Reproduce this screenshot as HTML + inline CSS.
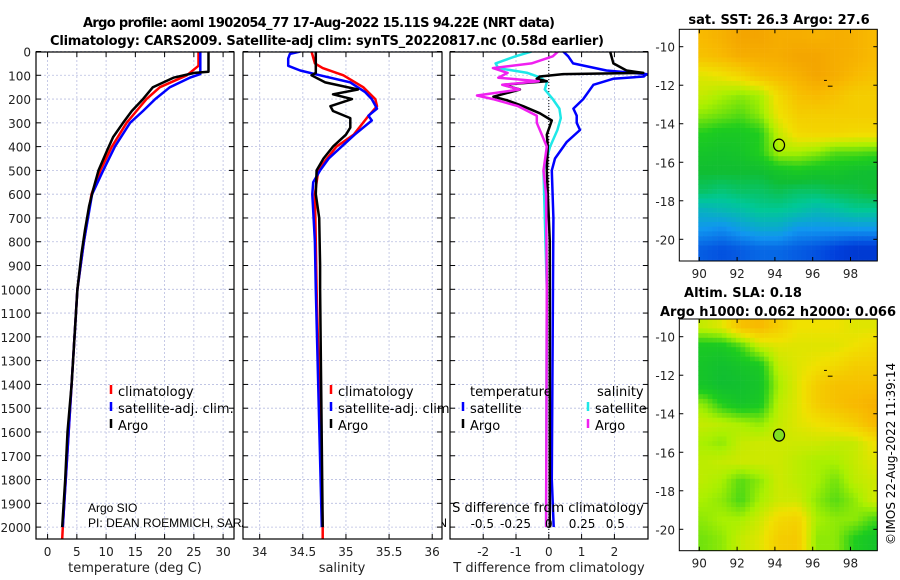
<!DOCTYPE html>
<html><head><meta charset="utf-8"><style>
html,body{margin:0;padding:0;background:#fff;}
svg{display:block;font-family:"DejaVu Sans","Liberation Sans",sans-serif;}
</style></head><body>
<svg id="fig" width="900" height="580" viewBox="0 0 900 580" xmlns="http://www.w3.org/2000/svg">
<text x="319" y="27" font-size="13" font-weight="bold" text-anchor="middle" textLength="472">Argo profile: aoml 1902054_77 17-Aug-2022 15.11S 94.22E (NRT data)</text>
<text x="327" y="45" font-size="13" font-weight="bold" text-anchor="middle" textLength="554">Climatology: CARS2009. Satellite-adj clim: synTS_20220817.nc (0.58d earlier)</text>
<g id="plots"></g>
<text transform="translate(895,545) rotate(-90)" font-size="12">©IMOS 22-Aug-2022 11:39:14</text>
</svg>
<script>
// ---- data ----
const depthTicks=[0,100,200,300,400,500,600,700,800,900,1000,1100,1200,1300,1400,1500,1600,1700,1800,1900,2000];
const tempTicks=[0,5,10,15,20,25,30];
const salTicks=[34,34.5,35,35.5,36];
const tdiffTicks=[-2,-1,0,1,2];
const sdiffTicks=[-0.5,-0.25,0,0.25,0.5];
const argoTDepth=[0,85,90,110,150,200,250,300,360,420,500,580,650,750,850,1000,1200,1400,1600,1800,2000];
const argoTemp=[27.5,27.5,25.1,21.5,18,16.3,14.4,12.9,11.2,10.1,8.7,7.8,7.1,6.4,5.8,5.1,4.6,4.1,3.4,3.0,2.5];
const climTDepth=[0,60,100,150,200,250,300,400,500,600,800,1000,1400,2000,2050];
const climTemp=[25.8,25.8,23.8,19.2,16.9,15.2,13.5,11,9,7.5,6.2,5.1,4.1,2.6,2.5];
const satTDepth=[0,95,110,150,200,250,300,400,500,600,800,1000,1400,2000];
const satTemp=[26.1,26.1,24.3,20.9,18.4,16.3,14.1,11.5,9.5,7.6,6.2,5.1,4.1,2.6];
const argoSDepth=[0,90,100,130,160,180,200,230,250,280,320,350,400,450,500,600,700,900,1000,2000];
const argoSal=[34.65,34.65,34.6,34.76,35.14,34.85,35.07,34.82,34.85,35.05,35.05,35.0,34.85,34.74,34.66,34.65,34.69,34.7,34.7,34.73];
const climSDepth=[0,50,70,100,150,200,230,280,350,400,450,500,600,800,1000,2000,2050];
const climSal=[34.6,34.64,34.73,34.97,35.2,35.34,35.36,35.24,35.09,34.89,34.78,34.68,34.64,34.65,34.66,34.73,34.73];
const satSDepth=[0,10,30,60,80,100,130,170,200,240,270,290,350,400,450,500,550,600,800,1000,2000];
const satSal=[34.47,34.35,34.33,34.33,34.47,34.7,35.05,35.22,35.3,35.36,35.26,35.3,35.1,34.95,34.8,34.7,34.62,34.61,34.64,34.65,34.72];
const argoTdDepth=[0,50,80,90,95,105,115,125,140,160,175,190,205,230,260,290,350,400,500,600,800,2000];
const argoTdiff=[1.87,1.97,2.37,2.88,0.44,-0.27,-0.37,-0.06,-1.39,-0.88,-1.28,-1.69,-1.28,-0.78,-0.27,0.09,-0.06,-0.03,-0.06,-0.03,0.03,0.03];
const satTdDepth=[0,20,50,80,95,105,115,140,200,240,270,300,330,380,450,500,700,1800,2000];
const satTdiff=[0.44,0.59,0.74,1.76,2.98,2.9,1.96,1.36,1.05,0.75,0.85,0.85,0.95,0.55,0.19,0.09,0.14,0.09,0.15];
const satSdDepth=[0,20,50,70,90,110,130,160,200,240,280,330,400,500,700,1000,2000];
const satSdiff=[-0.13,-0.25,-0.4,-0.38,-0.16,-0.06,-0.015,-0.03,0.03,0.08,0.09,0.065,0.01,-0.04,-0.03,-0.015,-0.02];
const argoSdDepth=[0,20,50,70,90,110,125,140,160,185,200,230,270,300,400,500,600,1000,2000];
const argoSdiff=[0.07,0.03,-0.13,-0.42,-0.31,-0.38,-0.075,-0.35,-0.22,-0.54,-0.42,-0.23,-0.09,-0.09,-0.015,-0.04,-0.02,-0.015,-0.02];
const latTicks=[-10,-12,-14,-16,-18,-20];
const lonTicks=[90,92,94,96,98];
const sstGrid=[
[.9,.92,.95,.95,.93,.93,.92,.93,.92,.9],
[.88,.9,.93,.93,.93,.95,.95,.93,.92,.9],
[.78,.8,.83,.88,.9,.92,.95,.93,.9,.88],
[.75,.72,.7,.72,.82,.88,.9,.88,.85,.85],
[.7,.68,.66,.7,.8,.85,.85,.85,.85,.85],
[.62,.6,.6,.62,.75,.82,.83,.83,.82,.82],
[.58,.57,.58,.62,.72,.72,.7,.66,.66,.65],
[.55,.55,.55,.55,.58,.6,.58,.58,.56,.55],
[.5,.48,.5,.5,.52,.5,.5,.52,.53,.55],
[.38,.4,.42,.45,.45,.43,.4,.42,.45,.45],
[.3,.28,.32,.35,.35,.3,.3,.3,.3,.3],
[.2,.18,.2,.22,.22,.2,.18,.15,.12,.12]];
const slaGrid=[
[.75,.78,.88,.9,.85,.8,.8,.8,.78,.78],
[.6,.6,.65,.75,.78,.78,.78,.78,.8,.82],
[.58,.56,.58,.6,.75,.78,.8,.82,.85,.85],
[.58,.55,.56,.58,.72,.78,.85,.88,.88,.88],
[.7,.62,.58,.6,.74,.78,.85,.88,.9,.92],
[.75,.74,.72,.7,.75,.78,.8,.82,.85,.9],
[.72,.7,.75,.76,.76,.76,.76,.75,.75,.8],
[.74,.75,.76,.76,.76,.74,.72,.72,.75,.78],
[.74,.72,.66,.7,.76,.74,.72,.68,.74,.76],
[.72,.7,.65,.72,.76,.76,.7,.66,.7,.76],
[.7,.72,.72,.76,.82,.84,.72,.7,.7,.65],
[.68,.7,.75,.78,.85,.86,.7,.7,.62,.58]];
const gridLat0=-9.5, gridLon0=90.2;
const floatLon=94.22, floatLat=-15.11;

// ---- helpers ----
const NS="http://www.w3.org/2000/svg";
const root=document.getElementById('plots');
function mk(tag,attrs,parent){const e=document.createElementNS(NS,tag);for(const k in attrs)e.setAttribute(k,attrs[k]);(parent||root).appendChild(e);return e;}
const depthY=d=>51.5+d*0.2378;
const P1={x0:36,x1:234,fx:v=>47.6+v*5.85};
const P2={x0:243,x1:442,fx:v=>259.7+(v-34)*86.25};
const P3={x0:450,x1:648,fx:v=>548.8+v*32.8,fs:v=>548.8+v*133};
const yTop=52,yBot=539;

function panel(P,name,ticks,fmt){
  const g=mk('g',{});
  
  
  mk('rect',{x:P.x0,y:yTop,width:P.x1-P.x0,height:yBot-yTop,fill:'#fff'},g);
  depthTicks.forEach(d=>{const y=depthY(d);const l=mk('line',{x1:P.x0,x2:P.x1,y1:y,y2:y,stroke:'#b8bde0','stroke-width':0.8,'stroke-dasharray':'2,2'},g);
    
    mk('line',{x1:P.x0,x2:P.x0+5,y1:y,y2:y,stroke:'#000'},g);mk('line',{x1:P.x1-5,x2:P.x1,y1:y,y2:y,stroke:'#000'},g);});
  ticks.forEach(v=>{const x=P.fx(v);const l=mk('line',{x1:x,x2:x,y1:yTop,y2:yBot,stroke:'#b8bde0','stroke-width':0.8,'stroke-dasharray':'2,2'},g);
    
    mk('line',{x1:x,x2:x,y1:yBot-5,y2:yBot,stroke:'#000'},g);mk('line',{x1:x,x2:x,y1:yTop,y2:yTop+5,stroke:'#000'},g);
    const t=mk('text',{x:x,y:yBot+17,'font-size':12,'text-anchor':'middle',fill:'#222'},g);t.textContent=fmt(v);
    });
  return g;
}
function series(g,P,fx,depths,vals,color,name,w){
  const pts=depths.map((d,i)=>fx(vals[i]).toFixed(1)+','+depthY(d).toFixed(1)).join(' ');
  const c=mk('clipPath',{id:'clip'+name},g);mk('rect',{x:P.x0,y:yTop,width:P.x1-P.x0,height:yBot-yTop},c);
  const l=mk('polyline',{points:pts,fill:'none',stroke:color,'stroke-width':w||2.5,'stroke-linejoin':'round','clip-path':'url(#clip'+name+')'},g);
  
  
}
function frame(g,P){mk('rect',{x:P.x0,y:yTop,width:P.x1-P.x0,height:yBot-yTop,fill:'none',stroke:'#000','stroke-width':1.2},g);}
function legendRow(g,x,y,color,label){
  mk('line',{x1:x,x2:x,y1:y-11,y2:y-2,stroke:color,'stroke-width':2.5},g);
  const t=mk('text',{x:x+7,y:y,'font-size':13,fill:'#000'},g);t.textContent=label;
  
}

// Panel 1
let g1=panel(P1,'temperature-panel',tempTicks,v=>String(v));
depthTicks.forEach(d=>{const t=mk('text',{x:31,y:depthY(d)+5,'font-size':12,'text-anchor':'end',fill:'#222'});t.textContent=d;
  });
series(g1,P1,P1.fx,climTDepth,climTemp,'#f00','temp-climatology-line');
series(g1,P1,P1.fx,satTDepth,satTemp,'#00f','temp-satellite-line');
series(g1,P1,P1.fx,argoTDepth,argoTemp,'#000','temp-argo-line');
frame(g1,P1);
legendRow(g1,111,396,'#f00','climatology');legendRow(g1,111,413,'#00f','satellite-adj. clim.');legendRow(g1,111,430,'#000','Argo');
let xl=mk('text',{x:135,y:572,'font-size':13,'text-anchor':'middle',fill:'#222'});xl.textContent='temperature (deg C)';

{let t=mk('text',{x:88,y:512,'font-size':12,'font-family':'Liberation Sans, sans-serif'});t.textContent='Argo SIO';
 
 t=mk('text',{x:88,y:527,'font-size':12,'font-family':'Liberation Sans, sans-serif',textLength:359,lengthAdjust:'spacingAndGlyphs'});t.textContent='PI: DEAN ROEMMICH, SARAH PURKEY, NATHALIE ZILBERMAN';
 }

// Panel 2
let g2=panel(P2,'salinity-panel',salTicks,v=>String(v));
series(g2,P2,P2.fx,climSDepth,climSal,'#f00','sal-climatology-line');
series(g2,P2,P2.fx,satSDepth,satSal,'#00f','sal-satellite-line');
series(g2,P2,P2.fx,argoSDepth,argoSal,'#000','sal-argo-line');
frame(g2,P2);
legendRow(g2,331,396,'#f00','climatology');legendRow(g2,331,413,'#00f','satellite-adj. clim.');legendRow(g2,331,430,'#000','Argo');
xl=mk('text',{x:342,y:572,'font-size':13,'text-anchor':'middle',fill:'#222'});xl.textContent='salinity';


// Panel 3
let g3=panel(P3,'difference-panel',tdiffTicks,v=>String(v));
{const x=P3.fx(0);mk('line',{x1:x,x2:x,y1:yTop,y2:yBot,stroke:'#000','stroke-width':1,'stroke-dasharray':'1,2'},g3);}
series(g3,P3,P3.fs,satSdDepth,satSdiff,'#1ee8e8','sal-diff-satellite-line');
series(g3,P3,P3.fx,satTdDepth,satTdiff,'#00f','temp-diff-satellite-line');
series(g3,P3,P3.fx,argoTdDepth,argoTdiff,'#000','temp-diff-argo-line');
series(g3,P3,P3.fs,argoSdDepth,argoSdiff,'#f020f0','sal-diff-argo-line');
frame(g3,P3);
{let t=mk('text',{x:470,y:396,'font-size':13},g3);t.textContent='temperature';
 t=mk('text',{x:597,y:396,'font-size':13},g3);t.textContent='salinity';}
legendRow(g3,463,413,'#00f','satellite');legendRow(g3,463,430,'#000','Argo');
legendRow(g3,588,413,'#1ee8e8','satellite');legendRow(g3,588,430,'#f020f0','Argo');
{let t=mk('text',{x:548,y:512,'font-size':13,'text-anchor':'middle'},g3);t.textContent='S difference from climatology';
 
 sdiffTicks.forEach(v=>{const s=mk('text',{x:P3.fs(v),y:528,'font-size':12,'text-anchor':'middle'},g3);s.textContent=String(v);
  });}
xl=mk('text',{x:549,y:572,'font-size':13,'text-anchor':'middle',fill:'#222'});xl.textContent='T difference from climatology';


// ---- maps ----
const stops=[[0,[0,32,170]],[0.15,[0,64,220]],[0.3,[16,150,240]],[0.45,[0,200,150]],[0.55,[16,190,50]],[0.62,[30,205,30]],[0.72,[170,240,0]],[0.8,[240,225,0]],[0.9,[248,185,0]],[1,[240,145,0]]];
function cmap(v){for(let i=1;i<stops.length;i++){if(v<=stops[i][0]){const a=stops[i-1],b=stops[i],f=(v-a[0])/(b[0]-a[0]);return 'rgb('+a[1].map((c,k)=>Math.round(c+(b[1][k]-c)*f)).join(',')+')';}}return 'rgb(240,145,0)';}
function sample(grid,lat,lon){
  let r=(gridLat0-lat),c=(lon-gridLon0);
  r=Math.max(0,Math.min(grid.length-1,r));c=Math.max(0,Math.min(grid[0].length-1,c));
  const r0=Math.floor(r),c0=Math.floor(c),r1=Math.min(r0+1,grid.length-1),c1=Math.min(c0+1,grid[0].length-1),fr=r-r0,fc=c-c0;
  return grid[r0][c0]*(1-fr)*(1-fc)+grid[r0][c1]*(1-fr)*fc+grid[r1][c0]*fr*(1-fc)+grid[r1][c1]*fr*fc;
}
function map(name,grid,yTopM,yBotM,lat10Y,cell){
  const g=mk('g',{});
  
  
  const lonX=lon=>699.3+(lon-90)*18.9, latY=lat=>lat10Y+(-10-lat)*19.26;
  const x0=679.3,x1=877.3;
  mk('rect',{x:x0,y:yTopM,width:x1-x0,height:yBotM-yTopM,fill:'#fff'},g);
  for(let y=yTopM;y<yBotM;y+=cell){for(let x=698.3;x<x1;x+=cell){
    const lat=-10-((y+cell/2)-lat10Y)/19.26, lon=90+((x+cell/2)-699.3)/18.9;
    mk('rect',{x:x.toFixed(1),y:y.toFixed(1),width:(Math.min(cell,x1-x)+0.3).toFixed(1),height:(Math.min(cell,yBotM-y)+0.3).toFixed(1),fill:cmap(sample(grid,lat,lon))},g);}}
  mk('line',{x1:lonX(96.6),x2:lonX(96.75),y1:latY(-11.75),y2:latY(-11.75),stroke:'#000','stroke-width':1},g);
  mk('line',{x1:lonX(96.8),x2:lonX(97.05),y1:latY(-12.05),y2:latY(-12.05),stroke:'#000','stroke-width':1},g);
  const m=mk('ellipse',{cx:lonX(floatLon),cy:latY(floatLat),rx:5.5,ry:6,fill:name==='sla-map'?'#80e020':'none',stroke:'#000','stroke-width':1.2},g);
  
  mk('rect',{x:x0,y:yTopM,width:x1-x0,height:yBotM-yTopM,fill:'none',stroke:'#000','stroke-width':1},g);
  latTicks.forEach(v=>{const y=latY(v);mk('line',{x1:x0,x2:x0+4,y1:y,y2:y,stroke:'#000'},g);mk('line',{x1:x1-4,x2:x1,y1:y,y2:y,stroke:'#000'},g);
    const t=mk('text',{x:675,y:y+5,'font-size':12,'text-anchor':'end',fill:'#222'},g);t.textContent=v;
    });
  lonTicks.forEach(v=>{const x=lonX(v);mk('line',{x1:x,x2:x,y1:yBotM-4,y2:yBotM,stroke:'#000'},g);mk('line',{x1:x,x2:x,y1:yTopM,y2:yTopM+4,stroke:'#000'},g);
    const t=mk('text',{x:x,y:yBotM+17,'font-size':12,'text-anchor':'middle',fill:'#222'},g);t.textContent=v;
    });
}
map('sst-map',sstGrid,29.3,261,46.7,4.7);
map('sla-map',slaGrid,319,550.7,336.7,4.7);
{let t=mk('text',{x:779,y:24,'font-size':13,'font-weight':'bold','text-anchor':'middle'});t.textContent='sat. SST: 26.3 Argo: 27.6';
 
 t=mk('text',{x:743,y:297,'font-size':13,'font-weight':'bold','text-anchor':'middle'});t.textContent='Altim. SLA: 0.18';
 
 t=mk('text',{x:778,y:316,'font-size':13,'font-weight':'bold','text-anchor':'middle',textLength:236});t.textContent='Argo h1000: 0.062 h2000: 0.066';
 }
</script>
</body></html>
